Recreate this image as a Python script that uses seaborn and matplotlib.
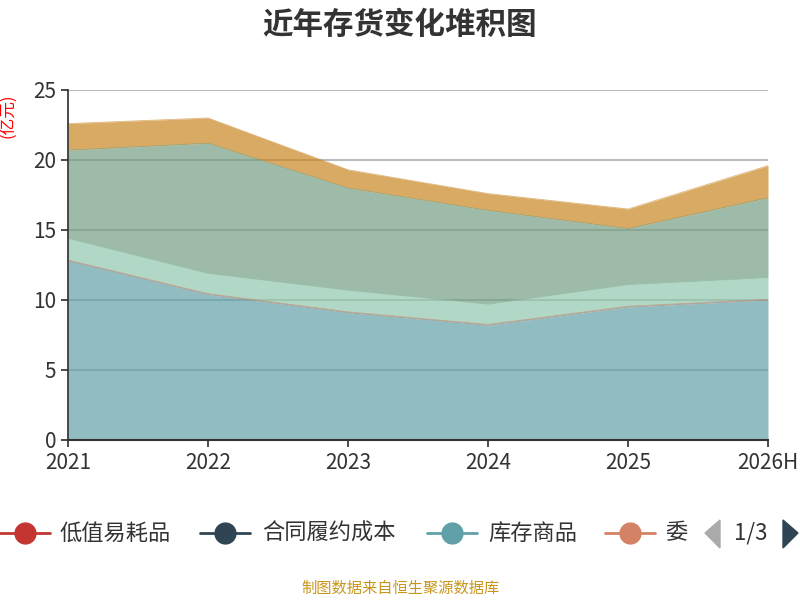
import matplotlib
matplotlib.use("Agg")
import matplotlib.pyplot as plt
import seaborn as sns
import numpy as np
from matplotlib.lines import Line2D
from matplotlib.patches import Polygon

sns.set_theme(style="white")
plt.rcParams['font.family'] = ['Noto Sans CJK SC', 'DejaVu Sans']

years = ["2021", "2022", "2023", "2024", "2025", "2026H"]
series_names = ["低值易耗品", "合同履约成本", "库存商品", "委托加工物资", "在产品", "原材料", "周转材料"]
colors = ["#c23531", "#2f4554", "#61a0a8", "#d48265", "#91c7ae", "#749f83", "#ca8622"]
v_dzyh = [0.0, 0.0, 0.0, 0.0, 0.0, 0.0]
v_htly = [0.0, 0.0, 0.0, 0.0, 0.0, 0.0]
v_kcsp = [12.8, 10.4, 9.1, 8.2, 9.5, 10.0]
v_wtjg = [0.05, 0.05, 0.05, 0.05, 0.05, 0.05]
v_zcp = [1.55, 1.45, 1.55, 1.45, 1.55, 1.55]
v_ycl = [6.3, 9.3, 7.3, 6.7, 4.0, 5.7]
v_zzcl = [1.9, 1.8, 1.3, 1.2, 1.4, 2.3]
values = [v_dzyh, v_htly, v_kcsp, v_wtjg, v_zcp, v_ycl, v_zzcl]

fig = plt.figure(figsize=(8, 6), dpi=100)
ax = fig.add_axes([68/800, 1-440/600, 700/800, 350/600])
x = np.arange(len(years))
base = np.zeros(len(years))
for vals, c in zip(values, colors):
    top = base + np.array(vals)
    ax.fill_between(x, base, top, color=c, alpha=0.7, linewidth=0, zorder=2)
    ax.plot(x, top, color=c, lw=0.6, alpha=0.6, zorder=3)
    base = top

ax.set_xlim(0, len(years)-1)
ax.set_ylim(0, 25)
ax.set_yticks([0, 5, 10, 15, 20, 25])
ax.set_xticks(x)
ax.set_xticklabels(years)
ax.tick_params(axis='both', labelsize=15, colors='#333333', length=5, direction='out', left=True, bottom=True)
ax.grid(axis='y', color='#bbbbbb', lw=1.5, zorder=1)
ax.set_axisbelow(True)
for s in ['top', 'right']:
    ax.spines[s].set_visible(False)
ax.spines['left'].set_color('#333333')
ax.spines['bottom'].set_color('#333333')
ax.spines['bottom'].set_linewidth(1.5)
for sp in ax.spines.values():
    sp.set_zorder(4)
ax.text(-0.085, 0.99, "(亿元)", transform=ax.transAxes, rotation=90, color='red', fontsize=12, ha='center', va='top')

fig.text(0.5, 1-25/600, "近年存货变化堆积图", ha='center', va='center', fontsize=22, fontweight='bold', color='#333333')

ly = 1-533/600
items = [(0.0, 60, "低值易耗品", colors[0]), (200, 262, "合同履约成本", colors[1]),
         (427, 488, "库存商品", colors[2]), (605, 665, "委", colors[3])]
for x0, tx, label, c in items:
    fig.add_artist(Line2D([x0/800, (x0+50)/800], [ly, ly], color=c, lw=2, transform=fig.transFigure))
    fig.add_artist(Line2D([(x0+25)/800], [ly], marker='o', markersize=15, color=c, transform=fig.transFigure))
    fig.text(tx/800, ly, label, fontsize=16, color='#333333', va='center', ha='left')
fig.add_artist(Polygon([[720/800, (600-520)/600], [720/800, (600-548)/600], [705/800, ly]], closed=True, color='#aaaaaa', transform=fig.transFigure))
fig.text(751/800, ly, "1/3", fontsize=16, color='#333333', va='center', ha='center')
fig.add_artist(Polygon([[783/800, (600-520)/600], [783/800, (600-548)/600], [798/800, ly]], closed=True, color='#2f4554', transform=fig.transFigure))

fig.text(0.5, 1-588/600, "制图数据来自恒生聚源数据库", ha='center', va='center', fontsize=11, color='#c9961a')

fig.savefig("out.png", dpi=100)
